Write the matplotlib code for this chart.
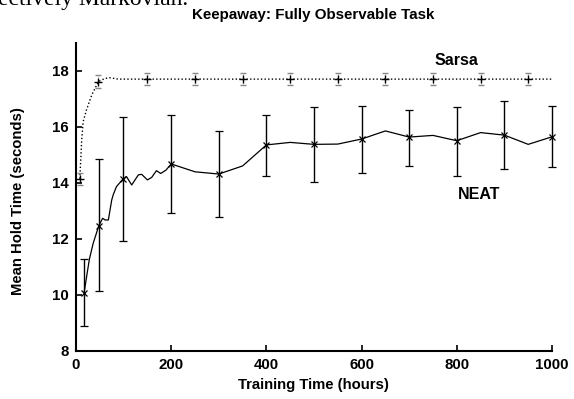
import matplotlib
matplotlib.use("Agg")
import matplotlib.pyplot as plt

plt.rcParams['font.family'] = ['Liberation Sans', 'DejaVu Sans']
plt.rcParams['font.weight'] = 'bold'

# NEAT curve (line) and its error-bar samples
neat_x = [17, 28, 36, 48, 56, 61, 68, 75, 78, 85, 98, 106, 117, 131, 138, 150,
          159, 169, 178, 189, 200, 250, 300, 350, 400, 450, 500, 550, 600, 650,
          700, 750, 800, 850, 900, 950, 1000]
neat_y = [10.08, 11.27, 11.84, 12.48, 12.74, 12.68, 12.68, 13.39, 13.57, 13.87,
          14.13, 14.23, 13.93, 14.29, 14.31, 14.11, 14.20, 14.44, 14.34, 14.46,
          14.68, 14.40, 14.32, 14.61, 15.36, 15.45, 15.38, 15.39, 15.57, 15.86,
          15.64, 15.70, 15.51, 15.80, 15.71, 15.38, 15.65]
neat_err_x = [17, 48, 98, 200, 300, 400, 500, 600, 700, 800, 900, 1000]
neat_err_y = [10.08, 12.48, 14.13, 14.68, 14.32, 15.36, 15.38, 15.57, 15.64, 15.51, 15.71, 15.65]
neat_lo = [8.89, 10.15, 11.94, 12.92, 12.80, 14.25, 14.05, 14.35, 14.62, 14.26, 14.49, 14.56]
neat_hi = [11.29, 14.86, 16.34, 16.43, 15.86, 16.43, 16.70, 16.76, 16.60, 16.73, 16.93, 16.74]

# Sarsa curve and its error-bar samples
sarsa_x = [8, 12, 15, 22, 33, 47, 60, 71, 89, 150, 250, 350, 450, 550, 650,
           750, 850, 950, 1000]
sarsa_y = [14.15, 15.54, 16.19, 16.61, 17.14, 17.62, 17.73, 17.76, 17.71, 17.71,
           17.71, 17.71, 17.71, 17.71, 17.71, 17.71, 17.71, 17.71, 17.71]
sarsa_err_x = [8, 47, 150, 250, 350, 450, 550, 650, 750, 850, 950]
sarsa_err_y = [14.15, 17.62, 17.71, 17.71, 17.71, 17.71, 17.71, 17.71, 17.71, 17.71, 17.71]
sarsa_err = [0.22, 0.22, 0.22, 0.22, 0.22, 0.22, 0.22, 0.22, 0.22, 0.22, 0.22]

fig = plt.figure(figsize=(5.74, 3.99), dpi=100)
ax = fig.add_axes([76 / 574, 1 - 351 / 399, 476 / 574, 308 / 399])

# NEAT
ax.plot(neat_x, neat_y, color='black', lw=0.9)
lo = [y - l for y, l in zip(neat_err_y, neat_lo)]
hi = [h - y for y, h in zip(neat_err_y, neat_hi)]
ax.errorbar(neat_err_x, neat_err_y, yerr=[lo, hi], fmt='x', color='black',
            ms=4, mew=0.9, elinewidth=1.0, capsize=3, capthick=1.0, clip_on=False)

# Sarsa
ax.plot(sarsa_x, sarsa_y, color='black', lw=1.0, ls=(0, (1, 1.6)))
eb = ax.errorbar(sarsa_err_x, sarsa_err_y, yerr=sarsa_err, fmt='+', color='black',
                 ms=6, mew=1.0, elinewidth=0.6, capsize=2, capthick=0.6,
                 ecolor='#888888')
eb[2][0].set_linestyle(':')

ax.text(800, 18.36, 'Sarsa', ha='center', va='center', fontsize=11.5)
ax.text(847, 13.6, 'NEAT', ha='center', va='center', fontsize=11.5)

ax.set_xlim(0, 1000)
ax.set_ylim(8, 19)
ax.set_xticks([0, 200, 400, 600, 800, 1000])
ax.set_yticks([8, 10, 12, 14, 16, 18])
ax.tick_params(direction='in', length=4, width=1.2, labelsize=10.8, pad=5,
               top=False, right=False)
for s in ['top', 'right']:
    ax.spines[s].set_visible(False)
for s in ['left', 'bottom']:
    ax.spines[s].set_linewidth(1.5)

fig.text(313.5 / 574, 1 - 15 / 399, 'Keepaway: Fully Observable Task',
         ha='center', va='center', fontsize=10.9)
fig.text(313 / 574, 1 - 385 / 399, 'Training Time (hours)',
         ha='center', va='center', fontsize=10.7)
fig.text(18 / 574, 1 - 201 / 399, 'Mean Hold Time (seconds)', rotation=90,
         ha='center', va='center', fontsize=10.7)

# cut-off line of body text above the figure
fig.text(-0.004, 1 - 5 / 399, 'ectively Markovian.', ha='left', va='baseline',
         fontsize=17, family='Liberation Serif', fontweight='normal')

fig.savefig('out.png', dpi=100)
